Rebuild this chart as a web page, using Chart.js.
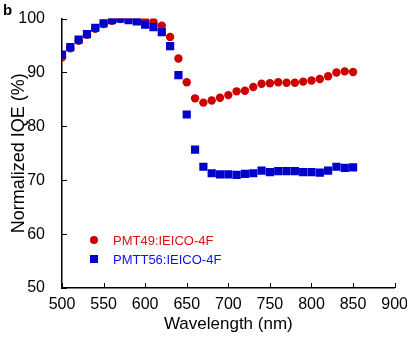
<!DOCTYPE html>
<html>
<head>
<meta charset="utf-8">
<script src="https://cdn.jsdelivr.net/npm/chart.js@4/dist/chart.umd.min.js"></script>
<style>
  html, body { margin: 0; padding: 0; background: #fff; }
</style>
</head>
<body>
<canvas id="iqe" width="407" height="342"></canvas>
<script>
// wavelengths (nm)
var wavelengths = [500, 510, 520, 530, 540, 550, 560, 570, 580, 590, 600, 610, 620, 630, 640, 650, 660, 670,
                   680, 690, 700, 710, 720, 730, 740, 750, 760, 770, 780, 790, 800, 810, 820, 830, 840, 850];
// normalized IQE (%)
var pmt49 = [92.8, 94.5, 95.9, 97.0, 98.1, 99.0, 99.6, 99.9, 100.0, 99.9, 99.7, 99.4, 98.7, 96.6, 92.6, 88.2, 85.2, 84.4,
             84.8, 85.3, 85.8, 86.5, 86.6, 87.3, 87.9, 88.0, 88.2, 88.1, 88.1, 88.3, 88.5, 88.8, 89.3, 90.0, 90.2, 90.1];
var pmtt56 = [93.3, 94.7, 96.1, 97.1, 98.3, 99.1, 99.7, 100.0, 99.7, 99.5, 98.9, 98.4, 97.5, 94.9, 89.5, 82.2, 75.7, 72.5,
              71.3, 71.1, 71.1, 71.0, 71.2, 71.3, 71.8, 71.5, 71.7, 71.7, 71.7, 71.5, 71.5, 71.4, 71.8, 72.5, 72.3, 72.4];
var xTicks = [500, 550, 600, 650, 700, 750, 800, 850, 900];
var yTicks = [50, 60, 70, 80, 90, 100];

var FONT = '"Liberation Sans", Arial, sans-serif';
var RED = '#cc0000';
var BLUE = '#0000cc';

function pts(ys) {
  return wavelengths.map(function(x, i) { return { x: x, y: ys[i] }; });
}

// inward tick marks, panel letter and inline legend
var extras = {
  id: 'extras',
  afterDraw: function(chart) {
    var ctx = chart.ctx, a = chart.chartArea;
    var xs = chart.scales.x, ys = chart.scales.y;
    ctx.save();
    ctx.strokeStyle = '#000';
    ctx.lineWidth = 1;
    ctx.beginPath();
    xTicks.forEach(function(v) {
      var px = Math.round(xs.getPixelForValue(v)) + 0.5;
      ctx.moveTo(px, a.bottom);
      ctx.lineTo(px, a.bottom - 5);
    });
    yTicks.forEach(function(v) {
      var py = Math.round(ys.getPixelForValue(v)) + 0.5;
      ctx.moveTo(a.left, py);
      ctx.lineTo(a.left + 5, py);
    });
    ctx.stroke();

    ctx.fillStyle = '#000';
    ctx.font = 'bold 15px ' + FONT;
    ctx.textBaseline = 'middle';
    ctx.fillText('b', 3, 11);

    // legend
    ctx.font = '13px ' + FONT;
    chart.data.datasets.forEach(function(ds) {
      var y = 240 + ds.legendRow * 19;
      var x = 94;
      ctx.fillStyle = ds.backgroundColor;
      ctx.beginPath();
      if (ds.pointStyle === 'rect') {
        ctx.rect(x - 4, y - 4, 8, 8);
      } else {
        ctx.arc(x, y, 4, 0, Math.PI * 2);
      }
      ctx.fill();
      ctx.fillStyle = ds.textColor;
      ctx.textBaseline = 'middle';
      ctx.fillText(ds.label, 113, y + 1);
    });
    ctx.restore();
  }
};

new Chart(document.getElementById('iqe'), {
  type: 'scatter',
  data: {
    datasets: [
      {
        label: 'PMT49:IEICO-4F',
        data: pts(pmt49),
        pointStyle: 'circle',
        pointRadius: 4.2,
        backgroundColor: RED,
        borderWidth: 0,
        textColor: '#dd1111',
        legendRow: 0,
        order: 1
      },
      {
        label: 'PMTT56:IEICO-4F',
        data: pts(pmtt56),
        pointStyle: 'rect',
        pointRadius: 5.8,
        backgroundColor: BLUE,
        borderWidth: 0,
        textColor: '#1111ee',
        legendRow: 1,
        order: 0
      }
    ]
  },
  options: {
    responsive: false,
    animation: false,
    devicePixelRatio: 1,
    layout: { padding: { top: 13, right: 0, left: 0, bottom: 0 } },
    plugins: {
      legend: { display: false },
      tooltip: { enabled: false }
    },
    scales: {
      x: {
        type: 'linear',
        min: 500, max: 900,
        afterBuildTicks: function(s) { s.ticks = xTicks.map(function(v) { return { value: v }; }); },
        afterFit: function(s) { s.height = 54; },
        grid: { display: false },
        border: { display: true, color: '#000', width: 1.5 },
        ticks: { color: '#000', padding: -1, maxRotation: 0, font: { family: FONT, size: 16 } },
        title: { display: true, text: 'Wavelength (nm)', color: '#000', padding: { top: 0, bottom: 7 }, font: { family: FONT, size: 17 } }
      },
      y: {
        min: 50, max: 100,
        afterBuildTicks: function(s) { s.ticks = yTicks.map(function(v) { return { value: v }; }); },
        afterFit: function(s) { s.width = 62; },
        grid: { display: false },
        border: { display: true, color: '#000', width: 1.5 },
        ticks: { color: '#000', padding: 9, font: { family: FONT, size: 16 } },
        title: { display: true, text: 'Normalized IQE (%)', color: '#000', padding: { top: 8, bottom: 0 }, font: { family: FONT, size: 18 } }
      }
    }
  },
  plugins: [extras]
});
</script>
</body>
</html>
